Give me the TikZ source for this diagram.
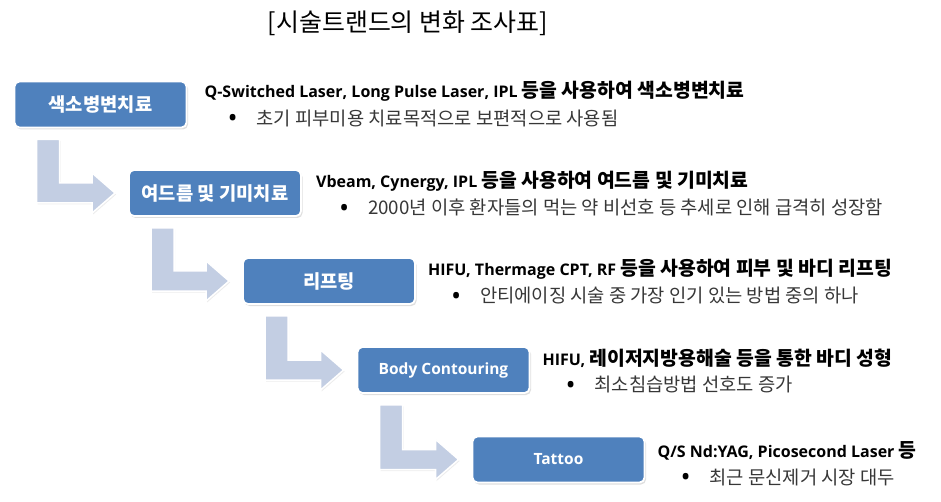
\documentclass[tikz,border=0pt]{standalone}
\usepackage{fontspec}
\setmainfont{Open Sans}
\newfontfamily\krfont{Noto Sans CJK KR}[Scale=1.21]
\usetikzlibrary{positioning, calc, shadows}

\definecolor{boxblue}{RGB}{79,129,189}
\definecolor{arrowblue}{RGB}{195,206,227}
\definecolor{notegray}{RGB}{55,55,55}
\newcommand{\kr}[1]{{\krfont #1}}
\newcommand{\bul}{\makebox[29pt][l]{\textcolor{black}{\fontsize{27}{16}\selectfont\raisebox{-2.5pt}{•}}}}

\begin{document}
\begin{tikzpicture}[x=1pt, y=-1pt,
        stage/.style={draw=white, line width=1.8pt, fill=boxblue, rounded corners=5pt,
            minimum width=172pt, minimum height=46pt, text=white,
            font=\fontsize{15.5}{18}\selectfont\bfseries,
            drop shadow={opacity=0.25, shadow xshift=1.5pt, shadow yshift=-2pt}},
        bendarrow/.style={fill=arrowblue, draw=white, line width=1.5pt,
            drop shadow={opacity=0.15, shadow xshift=1pt, shadow yshift=-1.5pt}},
        headline/.style={anchor=west, inner sep=0pt, font=\fontsize{16}{18}\selectfont\bfseries},
        noteline/.style={anchor=west, inner sep=0pt, text=notegray, font=\fontsize{15.5}{18}\selectfont}]
        \useasboundingbox (0,0) rectangle (941,502);

        % title
        \node[font=\fontsize{20.6}{26}\selectfont] (title) at (408,23) {\kr{[시술트랜드의 변화 조사표]}};

        % stages
        \node[stage] (b1) at (100.5,104.5) {\kr{색소병변치료}};
        \node[stage] (b2) at (215,193) {\kr{여드름 및 기미치료}};
        \node[stage] (b3) at (329,281) {\kr{리프팅}};
        \node[stage] (b4) at (443.5,370) {Body Contouring};
        \node[stage] (b5) at (558.5,459.5) {Tattoo};

        % bent arrows between stages
        \foreach \from/\to in {b1/b2,b2/b3,b3/b4,b4/b5}{
            \coordinate (s) at ($(\from.south west)+(23,11)$);
            \coordinate (t) at ($(\to.west)+(-13,0)$);
            \draw[bendarrow] (s) -- ++(23,0) coordinate (sr)
                -- ($(sr |- t)+(0,-10)$) -- ($(t)+(-23,-10)$) -- ($(t)+(-23,-20)$)
                -- (t) -- ($(t)+(-23,20)$) -- ($(t)+(-23,10)$)
                -- ($(s |- t)+(0,10)$) -- cycle;
        }

        % descriptions
        \node[headline] (h1) at ($(b1.east)+(17,-13)$) {Q-Switched Laser, Long Pulse Laser, IPL \kr{등을 사용하여 색소병변치료}};
        \node[noteline] (n1) at ($(h1.west)+(23,27)$) {\bul\kr{초기 피부미용 치료목적으로 보편적으로 사용됨}};

        \node[headline] (h2) at ($(b2.east)+(14,-12)$) {Vbeam, Cynergy, IPL \kr{등을 사용하여 여드름 및 기미치료}};
        \node[noteline] (n2) at ($(h2.west)+(23,27)$) {\bul\kr{2000년 이후 환자들의 먹는 약 비선호 등 추세로 인해 급격히 성장함}};

        \node[headline] (h3) at ($(b3.east)+(12,-12)$) {HIFU, Thermage CPT, RF \kr{등을 사용하여 피부 및 바디 리프팅}};
        \node[noteline] (n3) at ($(h3.west)+(23,27)$) {\bul\kr{안티에이징 시술 중 가장 인기 있는 방법 중의 하나}};

        \node[headline] (h4) at ($(b4.east)+(12,-12)$) {HIFU, \kr{레이저지방용해술 등을 통한 바디 성형}};
        \node[noteline] (n4) at ($(h4.west)+(23,27)$) {\bul\kr{최소침습방법 선호도 증가}};

        \node[headline] (h5) at ($(b5.east)+(12,-9)$) {Q/S Nd:YAG, Picosecond Laser \kr{등}};
        \node[noteline] (n5) at ($(h5.west)+(23,27)$) {\bul\kr{최근 문신제거 시장 대두}};
    \end{tikzpicture}
\end{document}
